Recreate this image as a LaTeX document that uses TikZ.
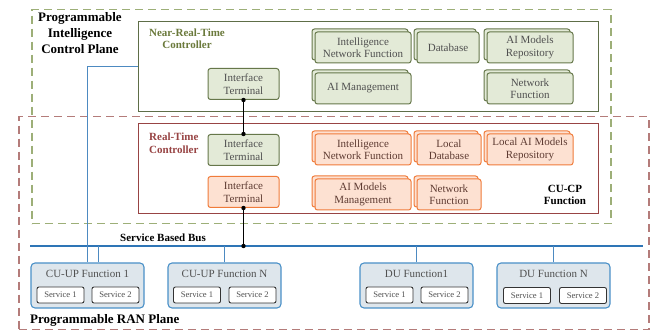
\documentclass[tikz,border=0pt]{standalone}
\usepackage{fontspec}
\setmainfont{Liberation Serif}
\usetikzlibrary{shadows}

\definecolor{grnfill}{HTML}{E3EAD7}
\definecolor{grnline}{HTML}{66774A}
\definecolor{grntext}{HTML}{505050}
\definecolor{orgfill}{HTML}{FDE1D2}
\definecolor{orgline}{HTML}{F07B3A}
\definecolor{orgtext}{HTML}{5E3B32}
\definecolor{blufill}{HTML}{DEE6EC}
\definecolor{bluline}{HTML}{4A90C8}
\definecolor{busblue}{HTML}{2E75B6}
\definecolor{grndash}{HTML}{9DAF78}
\definecolor{reddash}{HTML}{B47C7A}
\definecolor{nrtline}{HTML}{5E6E48}
\definecolor{rtline}{HTML}{984444}
\definecolor{nrttext}{HTML}{6B7A3C}

\tikzset{
  boxfont/.style={font=\fontsize{11}{12.5}\selectfont},
  title/.style={font=\fontsize{13}{16}\selectfont\bfseries, align=center, inner sep=0pt},
  boldlbl/.style={font=\fontsize{11}{12.5}\selectfont\bfseries, align=center, inner sep=0pt},
  plane/.style={dash pattern=on 8pt off 5pt, line width=1.5pt, anchor=north west, inner sep=0pt},
  ctrl/.style={line width=1pt, fill=white, anchor=north west, inner sep=0pt,
    minimum width=460pt, minimum height=90pt},
  grnbox/.style={boxfont, draw=grnline, fill=grnfill, text=grntext, line width=1pt,
    rounded corners=2.5pt, align=center, minimum height=31pt, inner sep=1pt},
  grnstack/.style={grnbox, copy shadow={shadow xshift=-3pt, shadow yshift=3pt,
    draw=grnline, fill=grnfill}},
  orgbox/.style={boxfont, draw=orgline, fill=orgfill, text=orgtext, line width=1pt,
    rounded corners=2.5pt, align=center, minimum height=31pt, inner sep=1pt},
  orgstack/.style={orgbox, copy shadow={shadow xshift=-3pt, shadow yshift=3pt,
    draw=orgline, fill=orgfill}},
  funcbox/.style={draw=bluline, fill=blufill, line width=1.1pt, rounded corners=4pt,
    minimum width=113pt, minimum height=45pt, inner sep=0pt},
  functitle/.style={boxfont, text=grntext, inner sep=0pt},
  svcbox/.style={draw=black!80, fill=white, line width=0.9pt, rounded corners=2pt,
    font=\fontsize{8.6}{10}\selectfont, text=grntext, minimum width=47pt,
    minimum height=16pt, inner sep=0pt},
  bus/.style={draw=busblue, line width=2pt},
  link/.style={draw=busblue!85, line width=1pt},
  wire/.style={draw=black, line width=1pt}
}

\begin{document}
\begin{tikzpicture}[x=1pt,y=-1pt]
\useasboundingbox (0,0) rectangle (654,331);

% planes
\node[plane, draw=grndash, minimum width=579pt, minimum height=214pt] (picp) at (31,9) {};
\node[plane, draw=reddash, minimum width=630pt, minimum height=213pt] (ranp) at (18,116) {};
\node[title] (picpt) at (80,33) {Programmable\\Intelligence\\Control Plane};
\node[title, anchor=west] (ranpt) at (30,320) {Programmable RAN Plane};

% near-real-time controller
\node[ctrl, draw=nrtline] (nrt) at (138,21) {};
\node[boldlbl, text=nrttext] (nrtt) at (187,38.5) {Near-Real-Time\\Controller};
\node[grnbox, minimum width=71pt] (nrtif) at (243.5,84) {Interface\\Terminal};
\node[grnstack, minimum width=96pt] (nrtinf) at (363,47.5) {Intelligence\\Network Function};
\node[grnstack, minimum width=62pt] (nrtdb) at (448,47.5) {Database};
\node[grnstack, minimum width=86pt] (nrtrepo) at (530,47.5) {AI Models\\Repository};
\node[grnstack, minimum width=96pt] (nrtmgmt) at (363,88.5) {AI Management};
\node[grnstack, minimum width=86pt] (nrtnf) at (530,88.5) {Network\\Function};

% real-time controller
\node[ctrl, draw=rtline] (rt) at (138,123) {};
\node[boldlbl, text=rtline, anchor=west, align=left] (rtt) at (149,143) {Real-Time\\Controller};
\node[grnbox, minimum width=71pt] (rtif) at (243.5,150) {Interface\\Terminal};
\node[orgbox, minimum width=71pt] (rtif2) at (243.5,192) {Interface\\Terminal};
\node[orgstack, minimum width=96pt] (rtinf) at (363,149.5) {Intelligence\\Network Function};
\node[orgstack, minimum width=64pt] (rtdb) at (449,149.5) {Local\\Database};
\node[orgstack, minimum width=86pt] (rtrepo) at (530,149.5) {Local AI Models\\Repository};
\node[orgstack, minimum width=96pt] (rtmgmt) at (363,194.5) {AI Models\\Management};
\node[orgstack, minimum width=64pt] (rtnf) at (449,194.5) {Network\\Function};
\node[boldlbl] (cucp) at (565,195) {CU-CP\\Function};

% service based bus
\coordinate (busw) at (30,246);
\coordinate (buse) at (643,246);
\draw[bus] (busw) -- (buse);
\node[boldlbl] (buslbl) at (163,237.5) {Service Based Bus};

% RAN functions
\node[funcbox] (cuup1) at (87.5,285.5) {};
\node[functitle] (cuup1t) at (87.5,274) {CU-UP Function 1};
\node[svcbox] (cuup1a) at (60.5,295) {Service 1};
\node[svcbox] (cuup1b) at (115.5,295) {Service 2};

\node[funcbox] (cuupn) at (224.5,285.5) {};
\node[functitle] (cuupnt) at (224.5,274) {CU-UP Function N};
\node[svcbox] (cuupna) at (197,295) {Service 1};
\node[svcbox] (cuupnb) at (252.5,295) {Service 2};

\node[funcbox] (du1) at (416.5,285.5) {};
\node[functitle] (du1t) at (416.5,274) {DU Function1};
\node[svcbox] (du1a) at (389.5,295) {Service 1};
\node[svcbox] (du1b) at (444.5,295) {Service 2};

\node[funcbox] (dun) at (553.5,285.5) {};
\node[functitle] (dunt) at (553.5,274) {DU Function N};
\node[svcbox] (duna) at (527,295.5) {Service 1};
\node[svcbox] (dunb) at (583,295.5) {Service 2};

% connectors
\draw[link] (nrt.west) -| (cuup1.north);
\draw[link] ([xshift=11pt]cuup1.north) -- ([xshift=11pt]cuup1.north |- busw);
\draw[link] (cuupn.north) -- (cuupn.north |- busw);
\draw[link] (du1.north) -- (du1.north |- busw);
\draw[link] (dun.north) -- (dun.north |- busw);

\draw[wire] (nrtif.south) -- (rtif.north);
\draw[wire] (rtif2.south) -- (rtif2.south |- busw) coordinate (busdot);
\fill (nrtif.south) circle (2.2pt);
\fill (rtif.north) circle (2.2pt);
\fill (rtif2.south) circle (2.2pt);
\fill (busdot) circle (2.2pt);
\end{tikzpicture}
\end{document}
